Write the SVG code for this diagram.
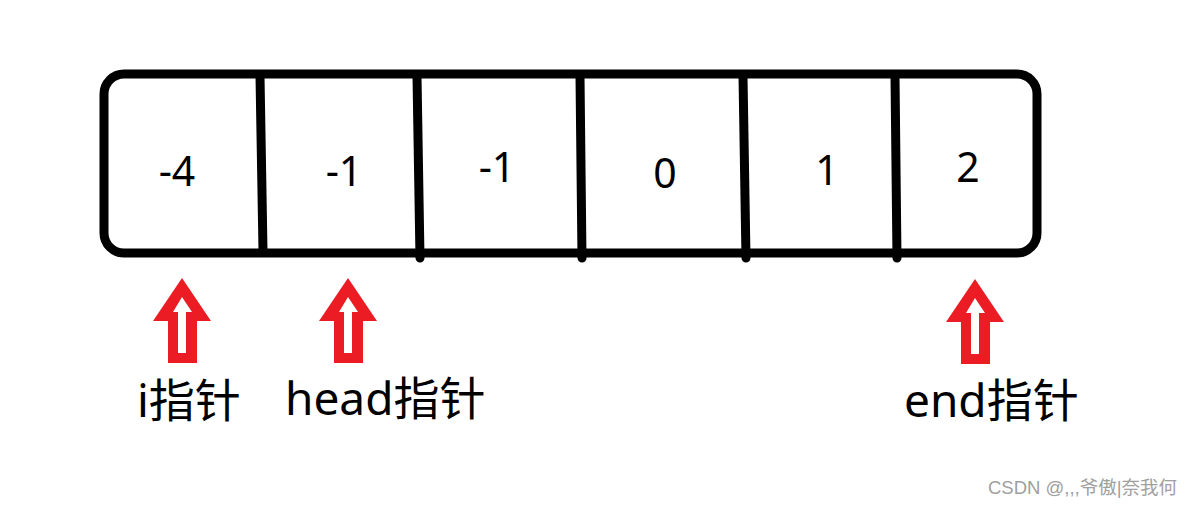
<svg xmlns="http://www.w3.org/2000/svg" width="1198" height="507" viewBox="0 0 1198 507">
<style>
.box{fill:#fff;stroke:#000;stroke-width:9}
.div{stroke:#000;stroke-width:9;stroke-linecap:round;fill:none}
.num{font-family:"Noto Sans","Noto Sans CJK SC",sans-serif;font-size:41px;fill:#000;text-anchor:middle}
.lbl{font-family:"Noto Sans","Noto Sans CJK SC",sans-serif;font-size:46px;fill:#000}
.red{fill:#ec1c24}
.wht{fill:#fff}
.wm{font-family:"Liberation Sans","Noto Sans CJK SC",sans-serif;font-size:18.5px;fill:#a0a0a0}
</style>
<defs>
<g id="arrow">
<polygon class="red" points="0,0 29,43 15,43 15,85 -14,85 -14,43 -29,43"/>
<polygon class="wht" points="0,19 10,34 4,34 4,75 -4,75 -4,34 -9,34"/>
</g>
</defs>
<g id="array">
<rect class="box" x="104" y="74" width="933" height="179" rx="20" ry="20"/>
</g>
<g id="dividers">
<line class="div" x1="260" y1="76" x2="263" y2="251"/>
<line class="div" x1="417" y1="76" x2="420" y2="258"/>
<line class="div" x1="580" y1="76" x2="582" y2="258"/>
<line class="div" x1="743" y1="76" x2="746" y2="258"/>
<line class="div" x1="895" y1="76" x2="897" y2="258"/>
</g>
<g id="cell0"><text class="num" x="177" y="186">-4</text></g>
<g id="cell1"><text class="num" x="344" y="186">-1</text></g>
<g id="cell2"><text class="num" x="497" y="182">-1</text></g>
<g id="cell3"><text class="num" x="665" y="188">0</text></g>
<g id="cell4"><text class="num" x="827" y="185">1</text></g>
<g id="cell5"><text class="num" x="968" y="182">2</text></g>
<g id="ptr-i">
<use href="#arrow" x="182" y="278"/>
<text class="lbl" x="137" y="417">i指针</text>
</g>
<g id="ptr-head">
<use href="#arrow" x="348" y="278"/>
<text class="lbl" x="285" y="415">head指针</text>
</g>
<g id="ptr-end">
<use href="#arrow" x="975" y="279"/>
<text class="lbl" x="904" y="417">end指针</text>
</g>
<text class="wm" x="988" y="494">CSDN @,,,爷傲|奈我何</text>
</svg>
